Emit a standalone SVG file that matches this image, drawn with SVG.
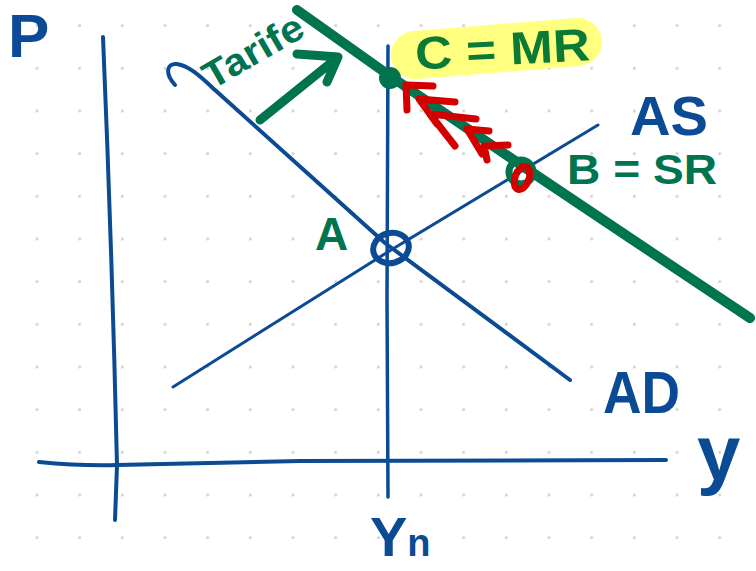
<svg xmlns="http://www.w3.org/2000/svg" width="756" height="571" viewBox="0 0 756 571">
  <defs>
    <pattern id="dots" x="15.67" y="4.27" width="42.67" height="42.67" patternUnits="userSpaceOnUse">
      <circle cx="21.33" cy="21.33" r="1.5" fill="#d0d0d0"/>
    </pattern>
    <style>
      .blue { stroke: #0b4a94; fill: none; stroke-linecap: round; stroke-linejoin: round; }
      .green { stroke: #00734f; fill: none; stroke-linecap: round; stroke-linejoin: round; }
      .red { stroke: #d40000; fill: none; stroke-linecap: round; stroke-linejoin: round; stroke-width: 7; }
      .lbl { font-family: "Liberation Sans", Arial, sans-serif; font-weight: bold; }
      .tb { fill: #0b4a94; }
      .tg { fill: #00734f; }
    </style>
  </defs>
  <rect width="756" height="571" fill="#ffffff"/>
  <rect width="756" height="571" fill="url(#dots)"/>

  <g id="highlight">
    <path d="M415,55 L578,42" stroke="#ffff80" stroke-width="48" stroke-linecap="round" fill="none"/>
  </g>

  <g id="connectors">
    <!-- axes -->
    <path class="blue" d="M103,37 Q112,250 117,465 L115,520" stroke-width="4"/>
    <path class="blue" d="M39,462 Q80,466 117,465 L300,461 L666,460" stroke-width="4"/>
    <!-- Yn vertical -->
    <path class="blue" d="M388,46 L387,300 L388,497" stroke-width="3.5"/>
    <!-- AD curve -->
    <path class="blue" d="M175,85 C165,74 166,63 177,64 C190,66 202,78 215,90 L385,243 L570,380" stroke-width="4"/>
    <!-- AS line -->
    <path class="blue" d="M173,387 L391,250 L598,125" stroke-width="3"/>
    <!-- MR green line -->
    <path class="green" d="M297,10 L390,76 L521,165 L633,240 L750,318" stroke-width="10"/>
    <!-- Tarife arrow -->
    <path class="green" d="M260,120 L337,58 M297,54 L338,57 L327,82" stroke-width="9"/>
    <!-- red arrows -->
    <path class="red" d="M433,86 L406,85 L407,110"/>
    <path class="red" d="M455,102 L419,99 L437,124"/>
    <path class="red" d="M476,119 L430,114 L455,146"/>
    <path class="red" d="M489,131 L467,129 L482,154"/>
    <path class="red" d="M508,145 L484,146 L487,160"/>
  </g>

  <g id="pointA">
    <ellipse cx="391" cy="248" rx="18" ry="15" transform="rotate(-15 391 248)" class="blue" stroke-width="6"/>
  </g>
  <g id="pointC">
    <circle cx="390" cy="78" r="9" fill="#00734f" stroke="#00734f" stroke-width="4"/>
  </g>
  <g id="pointB">
    <circle cx="521" cy="172" r="12" class="green" stroke-width="7"/>
    <ellipse cx="522" cy="178" rx="7" ry="12" transform="rotate(20 522 178)" class="red" stroke-width="5"/>
  </g>

  <g id="labels">
    <text class="lbl tb" x="8" y="57" font-size="62">P</text>
    <text class="lbl tg" x="0" y="0" font-size="38" transform="translate(212,90) rotate(-30)" textLength="110" lengthAdjust="spacingAndGlyphs">Tarife</text>
    <text class="lbl" x="415" y="65" font-size="46" fill="#0b7a35" textLength="175" lengthAdjust="spacingAndGlyphs" transform="rotate(-3 500 50)">C = MR</text>
    <text class="lbl tb" x="630" y="135" font-size="55" textLength="78" lengthAdjust="spacingAndGlyphs">AS</text>
    <text class="lbl tg" x="567" y="184" font-size="42" textLength="150" lengthAdjust="spacingAndGlyphs">B = SR</text>
    <text class="lbl tg" x="315" y="250" font-size="46">A</text>
    <text class="lbl tb" x="603" y="413" font-size="60" textLength="77" lengthAdjust="spacingAndGlyphs">AD</text>
    <text class="lbl tb" x="697" y="480" font-size="78">y</text>
    <text class="lbl tb" x="370" y="556" font-size="56">Y<tspan font-size="38">n</tspan></text>
  </g>
</svg>
